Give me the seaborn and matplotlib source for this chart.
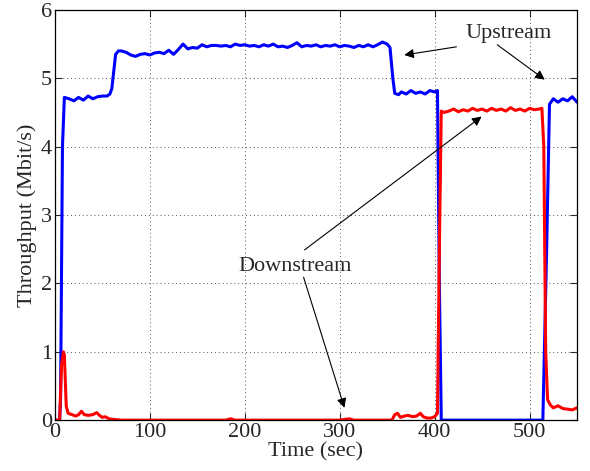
import matplotlib
matplotlib.use("Agg")
import matplotlib.pyplot as plt
import seaborn as sns
import pandas as pd

# ---- data ----
up_t = [0, 5, 6, 8, 10, 15, 20, 25, 30, 35, 40, 45, 50, 55, 58, 60, 62, 64, 67, 70, 75, 80, 85, 90,
        95, 100, 105, 110, 115, 120, 125, 130, 135, 140, 145, 150, 155, 160, 165, 170, 175, 180,
        185, 190, 195, 200, 205, 210, 215, 220, 225, 230, 235, 240, 245, 250, 255, 260, 265, 270,
        275, 280, 285, 290, 295, 300, 305, 310, 315, 320, 325, 330, 335, 340, 345, 350, 353, 356,
        358, 362, 365, 370, 375, 380, 385, 390, 395, 400, 403, 405, 407, 514, 518, 521, 525, 530,
        535, 540, 545, 550]
up_v = [0, 0, 0.3, 4.0, 4.72, 4.70, 4.67, 4.72, 4.68, 4.74, 4.70, 4.73, 4.74, 4.74, 4.77, 4.85,
        5.10, 5.35, 5.40, 5.40, 5.38, 5.34, 5.32, 5.35, 5.36, 5.34, 5.37, 5.38, 5.36, 5.41, 5.35,
        5.42, 5.50, 5.43, 5.45, 5.44, 5.49, 5.46, 5.48, 5.48, 5.47, 5.48, 5.46, 5.50, 5.48, 5.49,
        5.47, 5.48, 5.46, 5.49, 5.47, 5.50, 5.46, 5.47, 5.45, 5.48, 5.52, 5.46, 5.48, 5.47, 5.49,
        5.46, 5.48, 5.47, 5.49, 5.46, 5.48, 5.47, 5.45, 5.48, 5.46, 5.49, 5.46, 5.49, 5.53, 5.50,
        5.45, 5.00, 4.78, 4.76, 4.80, 4.77, 4.82, 4.78, 4.80, 4.77, 4.82, 4.80, 4.82, 2.0, 0, 0,
        2.5, 4.62, 4.70, 4.65, 4.70, 4.67, 4.73, 4.65]

down_t = [0, 5, 7, 9, 10, 12, 14, 18, 22, 25, 28, 31, 35, 40, 44, 47, 50, 53, 57, 62, 70, 100,
          150, 180, 185, 190, 250, 300, 310, 315, 355, 358, 361, 364, 368, 372, 377, 381, 385,
          388, 392, 396, 400, 403, 405, 407, 410, 415, 420, 425, 430, 435, 440, 445, 450, 455,
          460, 465, 470, 475, 480, 485, 490, 495, 500, 505, 510, 513, 515, 517, 519, 522, 525,
          530, 535, 540, 545, 550]
down_v = [0, 0, 0.8, 1.0, 0.95, 0.2, 0.1, 0.08, 0.06, 0.08, 0.13, 0.08, 0.07, 0.08, 0.11, 0.07,
          0.04, 0.05, 0.02, 0.01, 0, 0, 0, 0, 0.02, 0, 0, 0, 0.02, 0, 0, 0.08, 0.1, 0.04, 0.06,
          0.07, 0.05, 0.06, 0.10, 0.05, 0.03, 0.03, 0.05, 0.10, 2.5, 4.52, 4.50, 4.52, 4.55, 4.51,
          4.54, 4.52, 4.56, 4.53, 4.55, 4.52, 4.56, 4.53, 4.55, 4.52, 4.57, 4.53, 4.55, 4.52, 4.56,
          4.54, 4.55, 4.56, 4.0, 1.0, 0.3, 0.22, 0.18, 0.21, 0.17, 0.16, 0.15, 0.18]

x_ticks = [0, 100, 200, 300, 400, 500]
y_ticks = [0, 1, 2, 3, 4, 5, 6]

df = pd.concat([
    pd.DataFrame({"Time": up_t, "Throughput": up_v, "Dir": "Upstream"}),
    pd.DataFrame({"Time": down_t, "Throughput": down_v, "Dir": "Downstream"}),
])

sns.set_style("ticks")
plt.rcParams["font.family"] = ["Liberation Serif", "DejaVu Serif"]

fig = plt.figure(figsize=(5.9, 4.71), dpi=100)
ax = fig.add_axes([0.093, 0.108, 0.885, 0.871])

sns.lineplot(data=df, x="Time", y="Throughput", hue="Dir",
             palette={"Upstream": "#0000ff", "Downstream": "#ff0000"},
             hue_order=["Upstream", "Downstream"], linewidth=2.2,
             legend=False, ax=ax, sort=False, estimator=None)

ax.set_xlim(0, 550)
ax.set_ylim(0, 6)
ax.set_xticks(x_ticks)
ax.set_yticks(y_ticks)
ax.tick_params(direction="in", top=True, right=True, labelsize=16, length=5, width=0.8, pad=2)
ax.grid(True, linestyle=(0, (1, 3)), color="#555555", linewidth=0.7)
for s in ax.spines.values():
    s.set_linewidth(0.9)
    s.set_color("black")
ax.set_xlabel("Time (sec)", fontsize=16, labelpad=0)
ax.set_ylabel("Throughput (Mbit/s)", fontsize=16, labelpad=3)

arrow = dict(arrowstyle="-|>", color="black", lw=0.8, mutation_scale=14,
             shrinkA=0, shrinkB=0)
ax.text(478, 5.66, "Upstream", fontsize=16, ha="center", va="center")
ax.annotate("", xy=(368, 5.34), xytext=(423, 5.46), arrowprops=arrow)
ax.annotate("", xy=(516, 4.98), xytext=(466, 5.49), arrowprops=arrow)
ax.text(252.6, 2.24, "Downstream", fontsize=16, ha="center", va="center")
ax.annotate("", xy=(449.5, 4.44), xytext=(263, 2.49), arrowprops=arrow)
ax.annotate("", xy=(305, 0.18), xytext=(262, 2.09), arrowprops=arrow)

fig.savefig("out.png", dpi=100)
